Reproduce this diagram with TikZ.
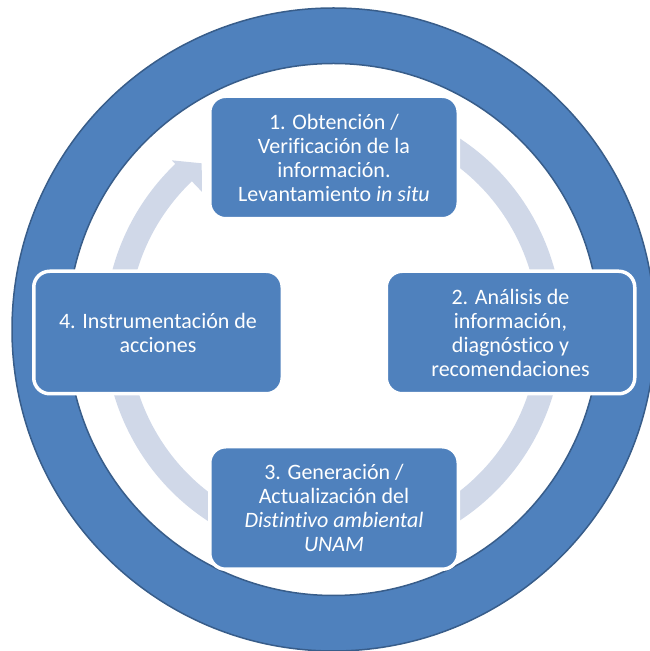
\documentclass[tikz,border=0pt]{standalone}
\usepackage{fontspec}
\setmainfont{Carlito}[Ligatures=NoCommon]
\definecolor{boxblue}{HTML}{4F81BD}
\definecolor{ringedge}{HTML}{385D8A}
\definecolor{bandcol}{HTML}{D0D8E8}
\begin{document}
\begin{tikzpicture}[x=1pt,y=1pt,
  cbox/.style={rectangle, rounded corners=16pt, fill=boxblue, draw=white,
    line width=3.5pt, minimum width=248.5pt, minimum height=122.5pt,
    inner sep=0pt, align=center, text=white,
    font=\fontsize{22}{24}\selectfont}]
\useasboundingbox (0,0) rectangle (650,651);
\clip (0,0) rectangle (650,651);
\coordinate (C) at (333.5,321.5);
% outer ring
\fill[boxblue, even odd rule] (C) circle[radius=321.5] (C) circle[radius=266];
\draw[ringedge, line width=1.5pt] (C) circle[radius=321.5];
\draw[ringedge, line width=1.5pt] (C) circle[radius=266];
% circular arrow band
\draw[bandcol, line width=24pt] ([shift={(115:217)}]C) arc[start angle=115, end angle=-226.5, radius=217];
\coordinate (hb1) at ([shift={(133.7:234)}]C);
\coordinate (hb2) at ([shift={(133.7:190.5)}]C);
\coordinate (htip) at (201.7,487.7);
\fill[bandcol] (hb1) -- (htip) -- (hb2) -- cycle;
% boxes
\node[cbox] (n1) at (334,493.5) {1. Obtención /\\Verificación de la\\información.\\Levantamiento \textit{in situ}};
\node[cbox] (n2) at (510.5,318.5) {2. Análisis de\\información,\\diagnóstico y\\recomendaciones};
\node[cbox] (n3) at (334,143) {3. Generación /\\Actualización del\\\textit{Distintivo ambiental}\\\textit{UNAM}};
\node[cbox] (n4) at (158,318.5) {4. Instrumentación de\\acciones};
\end{tikzpicture}
\end{document}
